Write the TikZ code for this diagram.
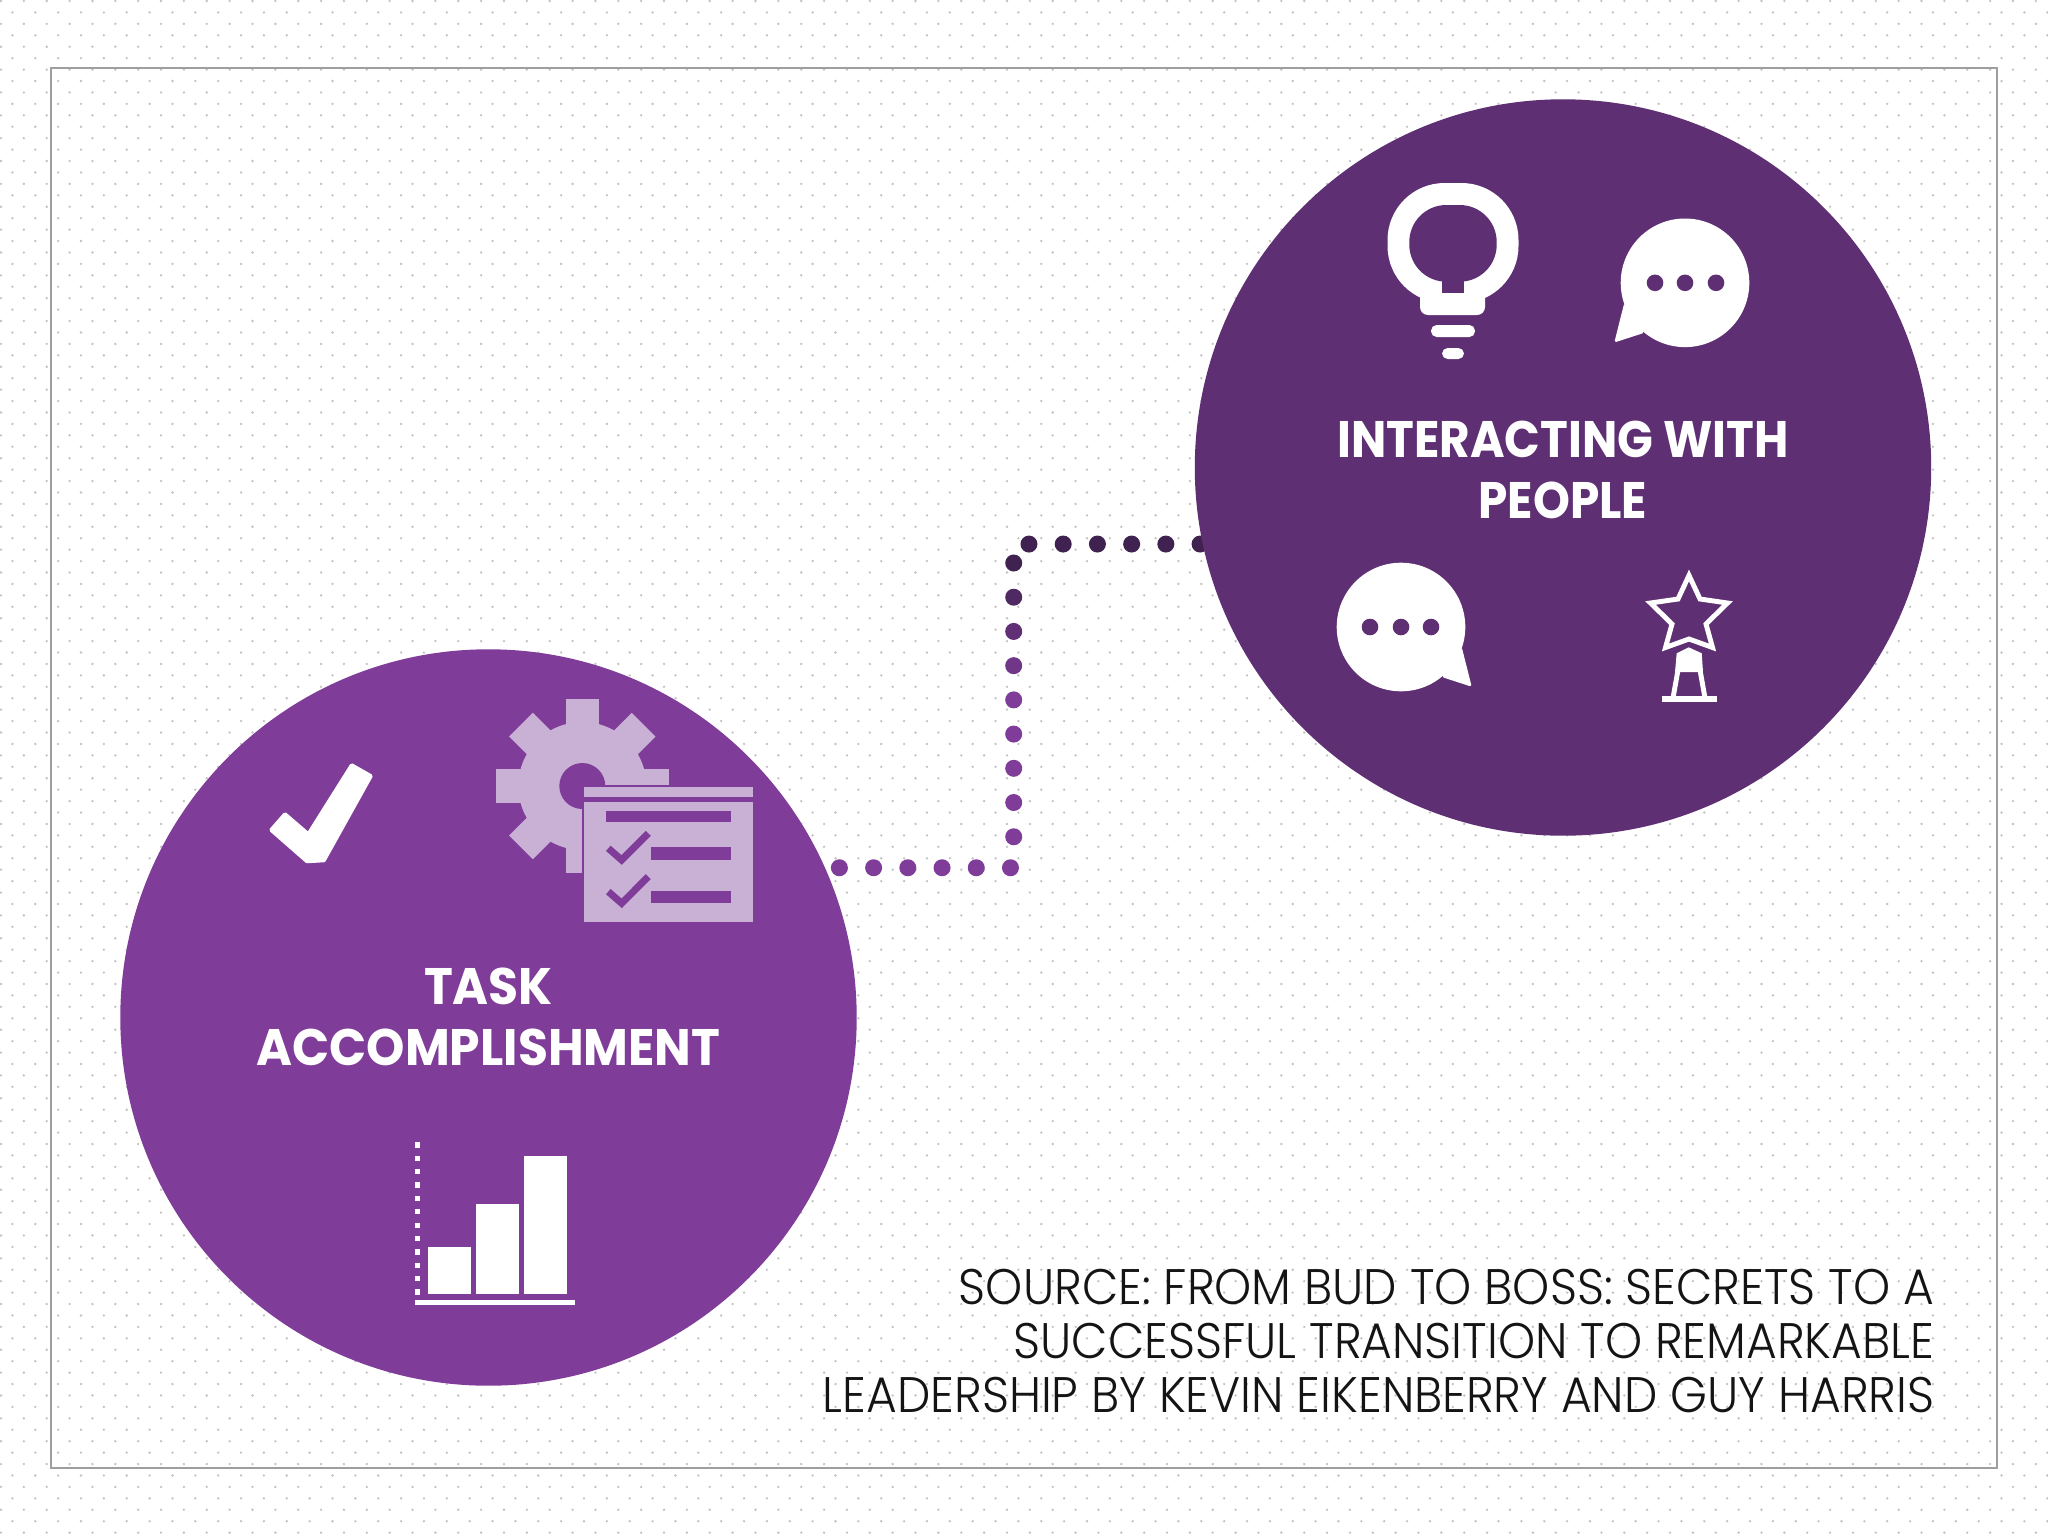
\documentclass[tikz,border=0pt]{standalone}
\usepackage{fontspec}
\usetikzlibrary{backgrounds,decorations.markings}
\newfontfamily\labelfont[FakeStretch=0.95]{Poppins}
\newfontfamily\peoplefont[FakeStretch=0.915]{Poppins}
\newfontfamily\sourcefont[FakeStretch=0.945]{Poppins Light}
\definecolor{taskpurple}{HTML}{803C99}
\definecolor{peoplepurple}{HTML}{5F2F73}
\definecolor{linkdark}{HTML}{3F2250}
\definecolor{lilac}{HTML}{C9B1D6}
\tikzset{
    hub/.style={circle, minimum size=7.36cm, inner sep=0pt, outer sep=0pt},
    hublabel/.style={inner sep=0pt, align=center, text=white},
    dotlink/.style={decorate, decoration={markings,
        mark=between positions 0.145cm and 1 step 0.342cm with {
            \pgfmathsetmacro{\mixval}{max(0,min(100,(15-\pgfkeysvalueof{/pgf/decoration/mark info/sequence number})*25))}
            \fill[taskpurple!\mixval!linkdark] (0,0) circle (0.085cm);
        }}},
    dotrow/.style={black!24, line width=0.026cm, line cap=round, dash pattern=on 0pt off 0.2285cm},
    icon/.style={fill=white, draw=none},
    iconline/.style={draw=white, line width=1.4pt, miter limit=10}
}
\begin{document}
\begin{tikzpicture}[x=0.01cm, y=-0.01cm]
    \useasboundingbox (0,0) rectangle (2048,1536);

    \node[hub, fill=taskpurple] (task) at (488.5,1017.5) {};
    \node[hub, fill=peoplepurple] (people) at (1563,467.5) {};
    \node[hublabel, font=\labelfont\bfseries\fontsize{14.6}{17.4}\selectfont] (tasklabel) at ([yshift=0.005cm]task.center) {TASK\\ACCOMPLISHMENT};
    \node[hublabel, font=\peoplefont\bfseries\fontsize{14.6}{17.4}\selectfont] (peoplelabel) at ([yshift=-0.025cm]people.center) {INTERACTING WITH\\PEOPLE};
    \node[anchor=east, inner sep=0pt, align=right, text=black!92, font=\sourcefont\fontsize{14.2}{15.48}\selectfont] (source) at (1935,1341)
        {SOURCE: FROM BUD TO BOSS: SECRETS TO A\\SUCCESSFUL TRANSITION TO REMARKABLE\\LEADERSHIP BY KEVIN EIKENBERRY AND GUY HARRIS};
    \coordinate (bend) at (1013.7,700);

    \begin{pgfonlayer}{background}
        \fill[white] (0,0) rectangle (2048,1536);
        \foreach \row in {0,...,134}
            \draw[dotrow] ({1+11.42*mod(\row,2)},{1+11.43*\row}) -- (2048,{1+11.43*\row});
        \draw[black!38, line width=0.6pt] (51,68) rectangle (1997,1468);
        \draw[dotlink] (task.24.7) -| (bend) |- (people.192);
    \end{pgfonlayer}

    % bulb
    \fill[icon, rounded corners=0.57cm] (1387.5,183) rectangle (1518.5,303);
    \fill[icon, rounded corners=0.08cm] (1420,280) rectangle (1485,315);
    \fill[peoplepurple, rounded corners=0.37cm] (1409.3,205) rectangle (1496.7,281.7);
    \fill[peoplepurple] (1442,270) rectangle (1464,292.7);
    \fill[icon, rounded corners=1.6pt] (1431,325) rectangle (1475,337);
    \fill[icon, rounded corners=1.6pt] (1442,348) rectangle (1464,359);

    % bubbles
    \foreach \cx/\cy/\side in {1685/282.8/-1, 1401/627/1}{
        \begin{scope}[shift={(\cx,\cy)}, xscale=\side]
            \fill[icon] (0,0) circle (64.3);
            \fill[icon, rounded corners=0.5pt] (60.7,20) -- (70.7,59.7) -- (40.7,50) -- cycle;
            \foreach \dx in {-31,0,30}
                \fill[peoplepurple] (\dx,0) circle (8.3);
        \end{scope}
    }

    % star
    \draw[iconline] (1689,575.4) -- (1700,599) -- (1727.5,603) -- (1706,624) -- (1712.5,647.5) -- (1689,639)
        -- (1665.5,647.5) -- (1672,624) -- (1650.5,603) -- (1678,599) -- cycle;
    \fill[icon] (1688.7,647.3) -- (1701.7,653.3) -- (1703,672) -- (1675,672) -- (1676.7,653.3) -- cycle;
    \draw[iconline] (1678,670) -- (1673,698);
    \draw[iconline] (1700,670) -- (1705,698);
    \fill[icon] (1661.7,696) rectangle (1716.7,702);

    % check
    \fill[icon, draw=white, line width=1pt, line join=round] (271,830) -- (285,814) -- (308.3,834) -- (351.7,765) -- (371,776)
        -- (324,860.5) -- (307,861.5) -- cycle;

    % gear
    \fill[lilac] (582.3,786) circle (64);
    \foreach \ang in {0,45,...,315}
        \fill[lilac, rotate around={\ang:(582.3,786)}] (565.5,786) rectangle (599.1,699.3);
    \fill[taskpurple] (582.3,786) circle (23);
    \fill[taskpurple] (581.5,785) rectangle (760,925);

    % list
    \fill[lilac] (584.3,787.3) rectangle (753.3,796.7);
    \fill[lilac] (584.3,801.7) rectangle (753.3,921.7);
    \fill[taskpurple] (606,811) rectangle (731,821.7);
    \foreach \dy in {0,43.3}{
        \fill[taskpurple] (650.7,{847.3+\dy}) rectangle (731,{860+\dy});
        \draw[taskpurple, line width=2pt] (608.3,{848.3+\dy}) -- (621.7,{860+\dy}) -- (648.3,{833.3+\dy});
    }

    % chart
    \draw[white, line width=1.5pt, dash pattern=on 0.053cm off 0.0806cm] (417.7,1142.3) -- (417.7,1295);
    \fill[icon] (428.3,1246.7) rectangle (471,1294.3);
    \fill[icon] (476.3,1203.7) rectangle (519,1294.3);
    \fill[icon] (524.3,1155.7) rectangle (567,1294.3);
    \fill[icon] (415,1300.3) rectangle (575,1305.3);
\end{tikzpicture}
\end{document}
